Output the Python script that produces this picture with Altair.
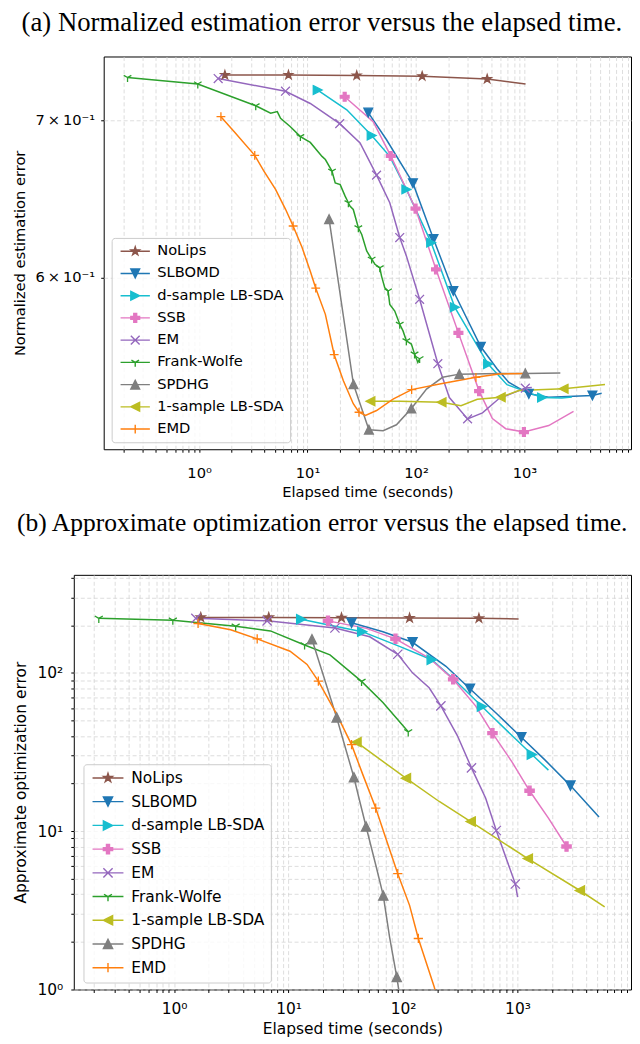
import altair as alt
import pandas as pd

# ---------------- data ----------------
# Panel (a): normalized estimation error vs elapsed time (s)
a_nolips_t = [1.73, 6.67, 28.4, 114, 453, 1023]
a_nolips_err = [0.7318, 0.7318, 0.7315, 0.7310, 0.7290, 0.7254]
a_nolips_mk = [0, 1, 2, 3, 4]

a_slbomd_t = [36.3, 53.5, 93.7, 145, 221, 396, 558, 719, 1097, 1673, 4230, 5150]
a_slbomd_err = [0.7054, 0.6869, 0.6583, 0.6233, 0.5924, 0.5609, 0.5490, 0.5417, 0.5357, 0.5339, 0.5348, 0.5360]
a_slbomd_mk = [0, 2, 3, 4, 5, 8, 10]

a_dsample_t = [12.4, 23.0, 39.0, 57.3, 81.5, 138, 228, 462, 690, 1452, 2213, 2735]
a_dsample_err = [0.7211, 0.7073, 0.6898, 0.6758, 0.6543, 0.6211, 0.5830, 0.5515, 0.5405, 0.5337, 0.5335, 0.5340]
a_dsample_mk = [0, 2, 4, 5, 6, 7, 9]

a_ssb_t = [22.0, 40.3, 58.5, 99.1, 153, 246, 382, 506, 671, 988, 1673, 2834]
a_ssb_err = [0.7164, 0.6992, 0.6761, 0.6421, 0.6050, 0.5686, 0.5371, 0.5229, 0.5177, 0.5160, 0.5193, 0.5266]
a_ssb_mk = [0, 2, 3, 4, 5, 6, 9]

a_em_t = [1.50, 6.26, 10.6, 19.8, 30.5, 43.3, 57.3, 70.8, 81.5, 108, 159, 203, 299, 410, 583, 1019, 1169]
a_em_err = [0.7293, 0.7203, 0.7117, 0.6978, 0.6847, 0.6635, 0.6458, 0.6242, 0.6131, 0.5876, 0.5517, 0.5337,
            0.5227, 0.5258, 0.5332, 0.5387, 0.5390]
a_em_mk = [0, 1, 3, 5, 7, 9, 10, 12, 15]

a_fw_t = [0.219, 0.973, 3.33, 4.57, 5.26, 5.64, 6.95, 8.59, 10.6, 13.6, 14.6, 16.8, 18.0, 20.0, 22.2, 23.8,
          24.6, 26.4, 29.4, 31.6, 35.1, 39.0, 41.8, 46.4, 48.1, 51.5, 55.3, 57.3, 63.7, 70.8, 75.9, 81.5,
          90.6, 97.0, 104, 108]
a_fw_err = [0.7300, 0.7254, 0.7101, 0.7050, 0.7061, 0.7014, 0.6957, 0.6890, 0.6851, 0.6758, 0.6737, 0.6661,
            0.6585, 0.6574, 0.6500, 0.6458, 0.6437, 0.6416, 0.6302, 0.6261, 0.6161, 0.6111, 0.6081, 0.6060,
            0.6011, 0.5943, 0.5924, 0.5847, 0.5809, 0.5734, 0.5697, 0.5642, 0.5624, 0.5569, 0.5524, 0.5544]
a_fw_mk = [0, 1, 2, 7, 11, 15, 18, 21, 23, 26, 29, 31, 33, 35]

a_spdhg_t = [15.8, 26.5, 36.8, 49.8, 66.0, 90.6, 125, 176, 251, 583, 1019, 2141]
a_spdhg_err = [0.6355, 0.5407, 0.5172, 0.5167, 0.5197, 0.5280, 0.5382, 0.5444, 0.5461, 0.5465, 0.5465, 0.5467]
a_spdhg_mk = [0, 1, 2, 5, 8, 10]

a_onesample_t = [38.0, 70.8, 172, 260, 367, 604, 889, 2296, 5530]
a_onesample_err = [0.5318, 0.5318, 0.5313, 0.5295, 0.5328, 0.5339, 0.5374, 0.5383, 0.5406]
a_onesample_mk = [0, 2, 5, 7]

a_emd_t = [1.59, 2.10, 3.26, 3.96, 5.07, 6.27, 7.36, 8.91, 10.6, 11.9, 14.6, 17.6, 21.4, 26.4, 29.8, 34.2,
           43.3, 61.4, 91.2, 165, 357, 583, 1051]
a_emd_err = [0.7026, 0.6925, 0.6765, 0.6661, 0.6543, 0.6417, 0.6313, 0.6181, 0.6040, 0.5940, 0.5790, 0.5566,
             0.5426, 0.5305, 0.5261, 0.5245, 0.5270, 0.5329, 0.5379, 0.5408, 0.5444, 0.5462, 0.5465]
a_emd_mk = [0, 2, 6, 9, 11, 14, 18, 20]

# Panel (b): approximate optimization error vs elapsed time (s)
b_nolips_t = [1.71, 6.71, 29.0, 114, 460, 1022]
b_nolips_err = [224, 224, 223, 222, 221, 219]
b_nolips_mk = [0, 1, 2, 3, 4]

b_slbomd_t = [35.5, 66.7, 121, 237, 384, 642, 1079, 1742, 2898, 5150]
b_slbomd_err = [207, 182, 156, 110, 79.4, 56.2, 39.2, 28.1, 19.4, 12.3]
b_slbomd_mk = [0, 2, 4, 6, 8]

b_dsample_t = [12.9, 23.0, 44.0, 93.0, 178, 289, 489, 894, 1334, 1862]
b_dsample_err = [218, 200, 182, 147, 121, 88.8, 61.3, 40.2, 30.5, 24.3]
b_dsample_mk = [0, 2, 4, 6, 8]

b_ssb_t = [22.1, 47.9, 85.9, 169, 274, 430, 604, 894, 1274, 1862, 2680]
b_ssb_err = [213, 191, 164, 124, 91, 61.9, 41.6, 27.4, 18.0, 12.1, 8.0]
b_ssb_mk = [0, 2, 4, 6, 8, 10]

b_em_t = [1.55, 6.50, 25.4, 51.2, 89.9, 121, 169, 214, 298, 396, 526, 652, 957, 1002]
b_em_err = [221, 213, 192, 169, 131, 100, 80.5, 61.9, 40.2, 25.1, 16.2, 10.1, 4.64, 3.83]
b_em_mk = [0, 1, 2, 4, 7, 9, 11, 12]

b_fw_t = [0.220, 0.975, 3.45, 6.94, 13.8, 23.0, 43.4, 66.7, 111]
b_fw_err = [221, 215, 197, 184, 150, 130, 88.3, 64.9, 42.4]
b_fw_mk = [0, 1, 2, 4, 6, 8]

b_onesample_t = [39.2, 106, 207, 390, 1230, 3505, 5770]
b_onesample_err = [36.5, 21.6, 15.4, 11.5, 6.71, 4.22, 3.32]
b_onesample_mk = [0, 1, 3, 4, 5]

b_spdhg_t = [16.0, 26.3, 37.2, 41.9, 47.5, 58.5, 67.2, 76.2, 88.1, 93.1]
b_spdhg_err = [163, 52.3, 21.9, 15.4, 10.7, 5.90, 3.92, 2.15, 1.20, 0.93]
b_spdhg_mk = [0, 1, 2, 4, 6, 8]

b_emd_t = [1.62, 3.12, 5.32, 10.3, 14.5, 18.2, 26.3, 35.5, 44.7, 57.7, 71.3, 89.9, 114, 136, 187, 195]
b_emd_err = [205, 187, 164, 137, 113, 88.7, 54.9, 35.2, 22.6, 14.0, 8.87, 5.39, 3.40, 2.10, 1.04, 0.93]
b_emd_mk = [0, 2, 5, 7, 9, 11, 13]

METHODS_A = ["NoLips", "SLBOMD", "d-sample LB-SDA", "SSB", "EM", "Frank-Wolfe",
             "SPDHG", "1-sample LB-SDA", "EMD"]
METHODS_B = ["NoLips", "SLBOMD", "d-sample LB-SDA", "SSB", "EM", "Frank-Wolfe",
             "1-sample LB-SDA", "SPDHG", "EMD"]

SERIES_A = {
    "NoLips": (a_nolips_t, a_nolips_err, a_nolips_mk),
    "SLBOMD": (a_slbomd_t, a_slbomd_err, a_slbomd_mk),
    "d-sample LB-SDA": (a_dsample_t, a_dsample_err, a_dsample_mk),
    "SSB": (a_ssb_t, a_ssb_err, a_ssb_mk),
    "EM": (a_em_t, a_em_err, a_em_mk),
    "Frank-Wolfe": (a_fw_t, a_fw_err, a_fw_mk),
    "SPDHG": (a_spdhg_t, a_spdhg_err, a_spdhg_mk),
    "1-sample LB-SDA": (a_onesample_t, a_onesample_err, a_onesample_mk),
    "EMD": (a_emd_t, a_emd_err, a_emd_mk),
}
SERIES_B = {
    "NoLips": (b_nolips_t, b_nolips_err, b_nolips_mk),
    "SLBOMD": (b_slbomd_t, b_slbomd_err, b_slbomd_mk),
    "d-sample LB-SDA": (b_dsample_t, b_dsample_err, b_dsample_mk),
    "SSB": (b_ssb_t, b_ssb_err, b_ssb_mk),
    "EM": (b_em_t, b_em_err, b_em_mk),
    "Frank-Wolfe": (b_fw_t, b_fw_err, b_fw_mk),
    "1-sample LB-SDA": (b_onesample_t, b_onesample_err, b_onesample_mk),
    "SPDHG": (b_spdhg_t, b_spdhg_err, b_spdhg_mk),
    "EMD": (b_emd_t, b_emd_err, b_emd_mk),
}

COLORS = {"NoLips": "#8c564b", "SLBOMD": "#1f77b4", "d-sample LB-SDA": "#17becf", "SSB": "#e377c2",
          "EM": "#9467bd", "Frank-Wolfe": "#2ca02c", "SPDHG": "#7f7f7f", "1-sample LB-SDA": "#bcbd22",
          "EMD": "#ff7f0e"}

# marker geometry in unit coordinates ([-1, 1]), y pointing down
SHAPES = {
    "NoLips": ([[(0, -1), (0.2245, -0.309), (0.951, -0.309), (0.363, 0.118), (0.588, 0.809), (0, 0.382),
                 (-0.588, 0.809), (-0.363, 0.118), (-0.951, -0.309), (-0.2245, -0.309)]], True),
    "SLBOMD": ([[(-1, -1), (1, -1), (0, 1)]], True),
    "d-sample LB-SDA": ([[(-1, -1), (1, 0), (-1, 1)]], True),
    "SSB": ([[(-0.33, -1), (0.33, -1), (0.33, -0.33), (1, -0.33), (1, 0.33), (0.33, 0.33), (0.33, 1),
              (-0.33, 1), (-0.33, 0.33), (-1, 0.33), (-1, -0.33), (-0.33, -0.33)]], True),
    "EM": ([[(-1, -1), (1, 1)], [(-1, 1), (1, -1)]], False),
    "Frank-Wolfe": ([[(0, 0), (0, 1)], [(0, 0), (-0.866, -0.5)], [(0, 0), (0.866, -0.5)]], False),
    "SPDHG": ([[(0, -1), (1, 1), (-1, 1)]], True),
    "1-sample LB-SDA": ([[(1, -1), (-1, 0), (1, 1)]], True),
    "EMD": ([[(-1, 0), (1, 0)], [(0, -1), (0, 1)]], False),
}


def shape_path(name, dx=0.0, line=None):
    subs, closed = SHAPES[name]
    parts = []
    for sp in subs:
        s = "M" + "L".join(f"{x + dx:.3f},{y:.3f}" for x, y in sp)
        if closed:
            s += "Z"
        parts.append(s)
    if line is not None:
        parts.append(f"M{line[0]:.3f},0L{line[1]:.3f},0")
    return "".join(parts)


def to_frame(series):
    rows = []
    for m, (t, e, mk) in series.items():
        for i, (ti, ei) in enumerate(zip(t, e)):
            rows.append({"method": m, "t": ti, "err": ei, "mk": i in mk})
    return pd.DataFrame(rows)


def log_ticks(lo_exp, hi_exp, vmin, vmax):
    vals = []
    for e in range(lo_exp, hi_exp + 1):
        for k in range(1, 10):
            v = round(k * 10.0 ** e, 6)
            if vmin <= v <= vmax:
                vals.append(v)
    return vals


DEC_EXPR = ("datum.value == 1 ? '10⁰' : datum.value == 10 ? '10¹' : "
            "datum.value == 100 ? '10²' : datum.value == 1000 ? '10³' : ''")

GRID = dict(grid=True, gridColor="#d4d4d4", gridDash=[4, 2.5], gridWidth=0.8)


def panel(series, methods, xdom, ydom, yvalues, ylabel_expr, ytitle, fs, size, legend_xy,
          width, height, title, title_fs, title_offset, ypad, ytitlepad, xpad, xtitlepad, row_pad):
    df = to_frame(series)
    u = (size ** 0.5) / 2.0
    line_px = 2.0 * fs
    c = (line_px / 2.0) / u - 1.0
    half = (line_px / 2.0) / u
    leg_paths = "{" + ",".join(
        f"'{m}':'{shape_path(m, c, (c - half, c + half))}'" for m in methods) + "}"
    col_map = "{" + ",".join(f"'{m}':'{COLORS[m]}'" for m in methods) + "}"
    legend = alt.Legend(
        title=None, orient="none", legendX=legend_xy[0], legendY=legend_xy[1],
        symbolSize=size, labelFont="DejaVu Sans", labelFontSize=fs, labelColor="black",
        labelOffset=line_px + 0.3 * fs - 2 * u, rowPadding=row_pad, padding=6,
        fillColor="rgba(255,255,255,0.8)", strokeColor="#cccccc", cornerRadius=3,
        symbolType={"expr": leg_paths + "[datum.value]"},
        symbolFillColor={"expr": col_map + "[datum.value]"},
        symbolStrokeColor={"expr": col_map + "[datum.value]"},
        symbolStrokeWidth=1.4, symbolOpacity=1,
    )
    xscale = alt.Scale(type="log", domain=xdom, nice=False)
    yscale = alt.Scale(type="log", domain=ydom, nice=False, zero=False)
    cscale = alt.Scale(domain=methods, range=[COLORS[m] for m in methods])
    # marker scales use the reversed order so that they stay separate from the line legend
    rev = methods[::-1]
    mscale = alt.Scale(domain=rev, range=[COLORS[m] for m in rev])
    sscale = alt.Scale(domain=rev, range=[shape_path(m) for m in rev])

    x_axis = alt.Axis(values=log_ticks(-1, 3, xdom[0], xdom[1]), labelExpr=DEC_EXPR, tickSize=3,
                      labelPadding=xpad, labelFontSize=fs, title="Elapsed time (seconds)",
                      titleFontSize=fs, titlePadding=xtitlepad, labelOverlap=False, **GRID)
    y_axis = alt.Axis(values=yvalues, labelExpr=ylabel_expr, tickSize=3, labelPadding=ypad,
                      labelFontSize=fs, title=ytitle, titleFontSize=fs, titlePadding=ytitlepad,
                      labelOverlap=False, **GRID)

    base = alt.Chart(df)
    lines = base.mark_line(strokeWidth=1.5, clip=True).encode(
        x=alt.X("t:Q", scale=xscale, axis=x_axis),
        y=alt.Y("err:Q", scale=yscale, axis=y_axis),
        color=alt.Color("method:N", scale=cscale, legend=legend),
        detail="method:N",
    )
    pts = base.transform_filter("datum.mk").transform_calculate(alg="datum.method").mark_point(
        filled=True, size=size, strokeWidth=1.3, clip=True, opacity=1).encode(
        x=alt.X("t:Q", scale=xscale),
        y=alt.Y("err:Q", scale=yscale),
        fill=alt.Fill("alg:N", scale=mscale, legend=None),
        stroke=alt.Stroke("alg:N", scale=mscale, legend=None),
        shape=alt.Shape("alg:N", scale=sscale, legend=None),
    )
    return alt.layer(lines, pts).properties(
        width=width, height=height,
        title=alt.TitleParams(title, font="Liberation Serif", fontSize=title_fs, fontWeight="normal",
                              color="black", anchor="middle", frame="bounds", offset=title_offset),
    )


def spacer():
    # an empty 1x1 cell: it only lets the two panels sit in a free-flowing column
    return alt.Chart(pd.DataFrame({"v": []})).mark_point().properties(
        width=1, height=1, view=alt.ViewBackground(stroke="transparent"))


pa = panel(SERIES_A, METHODS_A, [0.132, 9600], [0.5074, 0.7452], [0.6, 0.7],
           "datum.value < 0.65 ? '6\u2009×\u200910⁻¹' : '7\u2009×\u200910⁻¹'",
           "Normalized estimation error",
           14.7, 78, (8, 182), 529, 394,
           "(a) Normalized estimation error versus the elapsed time.", 26.8, 19.4,
           6, 7.4, 13, 4.5, 6.3)

pb = panel(SERIES_B, METHODS_B, [0.133, 9800], [1, 416], log_ticks(0, 2, 1, 416),
           "datum.value == 1 ? '10⁰' : datum.value == 10 ? '10¹' : datum.value == 100 ? '10²' : ''",
           "Approximate optimization error",
           15.5, 86, (9.7, 190), 559, 416,
           "(b) Approximate optimization error versus the elapsed time.", 25.6, 34.5,
           8, 8.6, 9, 4.5, 6.8)

chart = alt.concat(spacer(), pa, spacer(), pb, columns=2, align="none",
                   spacing={"row": 10, "column": 0}).resolve_scale(
    color="independent", fill="independent", stroke="independent", shape="independent"
).resolve_legend(
    color="independent", fill="independent", stroke="independent", shape="independent"
).properties(
    padding={"left": 1, "top": 0, "right": 0, "bottom": 0}
).configure_view(stroke="black", strokeWidth=1).configure_axis(
    domain=False, tickColor="black", tickWidth=1, labelColor="black", titleColor="black",
    labelFont="DejaVu Sans", titleFont="DejaVu Sans", titleFontWeight="normal"
)

chart.save("out.html", embed_options={"renderer": "svg", "actions": False})
